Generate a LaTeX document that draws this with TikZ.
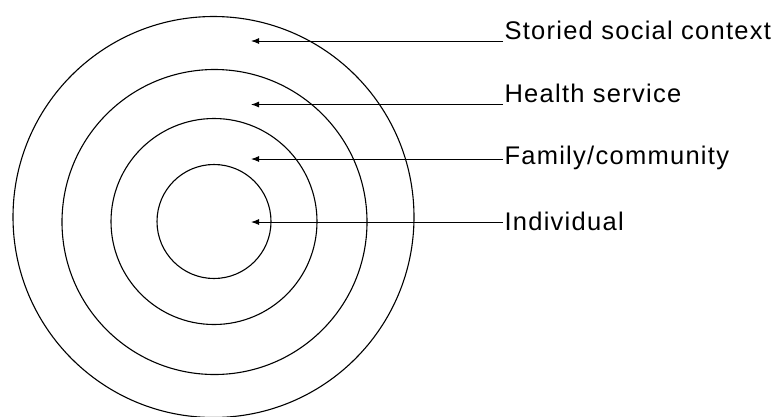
\documentclass[tikz,border=0pt]{standalone}
\usepackage{fontspec}
\setmainfont{Liberation Sans}[LetterSpace=5]
\usetikzlibrary{arrows.meta}
\tikzset{
  ring/.style={draw=black, line width=1.1pt},
  lbl/.style={anchor=base west, inner sep=1.5pt, outer sep=0pt, font=\fontsize{25.5}{30}\selectfont},
  pointer/.style={draw=black, line width=1pt, -{Latex[length=8pt,width=6pt]}}
}
\begin{document}
\begin{tikzpicture}[x=1pt,y=-1pt]
\useasboundingbox (0,0) rectangle (784,416);
% rings
\draw[ring] (213.5,217) circle (200.5);
\draw[ring] (214.5,222) circle (152.5);
\draw[ring] (214,221.5) circle (103);
\draw[ring] (214,221.5) circle (57);
% arrow tips
\coordinate (t1) at (251,41);
\coordinate (t2) at (251,104.5);
\coordinate (t3) at (251,159);
\coordinate (t4) at (251,222);
% labels
\node[lbl] (l1) at (503,39) {Storied social context};
\node[lbl] (l2) at (503,102) {Health service};
\node[lbl] (l3) at (503,164) {Family/community};
\node[lbl] (l4) at (503,230.5) {Individual};
% connectors
\draw[pointer] (l1.west |- t1) -- (t1);
\draw[pointer] (l2.west |- t2) -- (t2);
\draw[pointer] (l3.west |- t3) -- (t3);
\draw[pointer] (l4.west |- t4) -- (t4);
\end{tikzpicture}
\end{document}
